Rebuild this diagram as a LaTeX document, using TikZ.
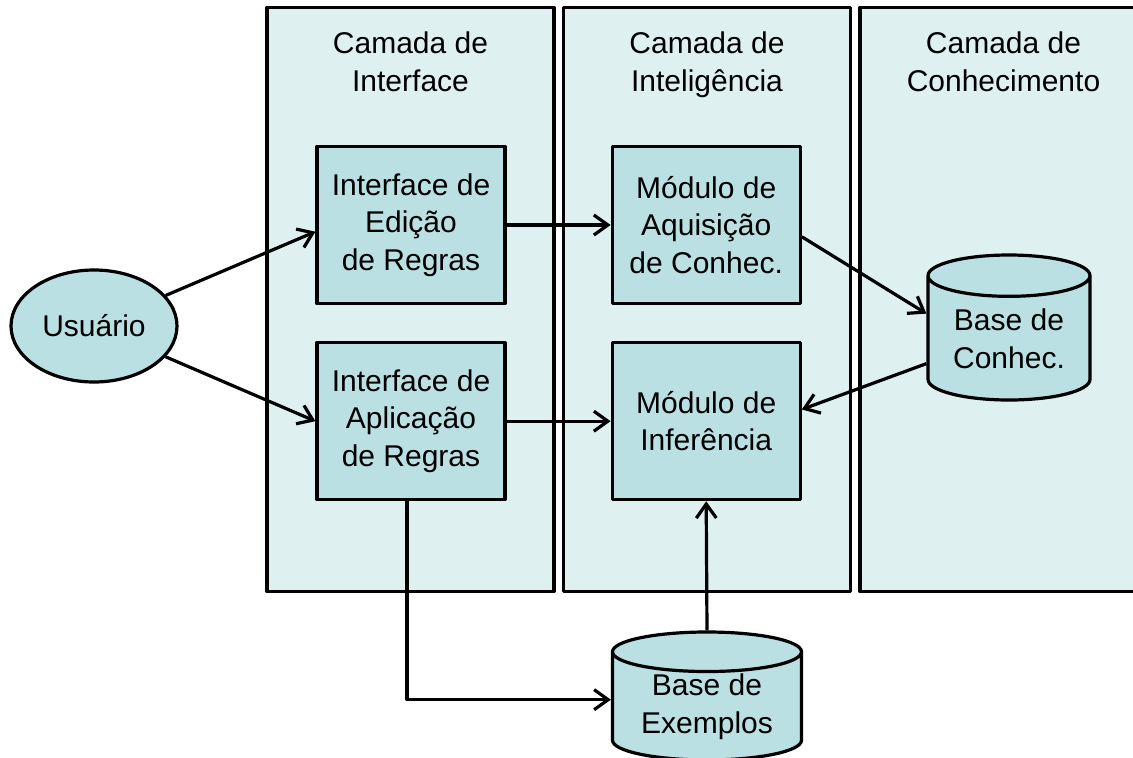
\documentclass[tikz,border=0pt]{standalone}
\usepackage{fontspec}
\setmainfont{Liberation Sans}
\usetikzlibrary{shapes.geometric, arrows.meta, positioning}

\definecolor{layerfill}{RGB}{222,240,240}
\definecolor{modfill}{RGB}{186,224,227}

\tikzset{
	layer/.style={draw, line width=3.2pt, fill=layerfill, minimum width=287pt, minimum height=584pt},
	title/.style={align=center, inner sep=0pt},
	module/.style={draw, line width=3.2pt, fill=modfill, minimum width=188pt, minimum height=157pt, align=center, inner sep=0pt},
	database/.style={cylinder, shape border rotate=90, anchor=shape center, draw, line width=3.2pt, fill=modfill, align=center, inner sep=0pt},
	flow/.style={line width=3.2pt, -{Straight Barb[length=14pt, width=20pt]}},
}

\begin{document}
\begin{tikzpicture}[x=1pt, y=-1pt, font=\fontsize{30}{37.5}\selectfont, line join=round]
	% Page frame in pixel units
	\useasboundingbox (0,0) rectangle (1133,758);
	
	% The three layers, side by side
	\node[layer] (lint) at (410.5,299.5) {};
	\node[layer] (lintel) at (707,299.5) {};
	\node[layer] (lconh) at (1003.5,299.5) {};
	
	\node[title, below=26pt of lint.north] {Camada de\\Interface};
	\node[title, below=26pt of lintel.north] {Camada de\\Inteligência};
	\node[title, below=26pt of lconh.north] {Camada de\\Conhecimento};
	
	% Modules
	\node[module] (edit) at (411,225) {Interface de\\Edição\\de Regras};
	\node[module, below=36pt of edit] (aplic) {Interface de\\Aplicação\\de Regras};
	\node[module, right=104pt of edit] (aquis) {Módulo de\\Aquisição\\de Conhec.};
	\node[module, right=104pt of aplic] (infer) {Módulo de\\Inferência};
	
	% Knowledge and example bases
	\node[database, aspect=0.37, minimum width=162pt, minimum height=145pt] (conh) at (1009,327.5) {Base de\\Conhec.};
	\node[database, aspect=0.30, minimum width=189pt, minimum height=128pt] (exem) at (707,696) {Base de\\Exemplos};
	
	% User
	\node[ellipse, draw, line width=3.2pt, fill=modfill, minimum width=166pt, minimum height=112pt] (usr) at (94,326) {Usuário};
	
	% Connections
	\draw[flow] (usr) -- (edit.184);
	\draw[flow] (usr) -- (aplic.west);
	\draw[flow] (edit) -- (aquis);
	\draw[flow] (aplic) -- (infer);
	\draw[flow] (aquis.-7) -- ([yshift=25pt]conh.west);
	\draw[flow] ([yshift=-25pt]conh.west) -- (infer.7);
	\draw[flow] ([xshift=-4pt]aplic.south) |- ([yshift=7pt]exem.west);
	\draw[flow] (exem.north) -- (infer.south);
\end{tikzpicture}
\end{document}
